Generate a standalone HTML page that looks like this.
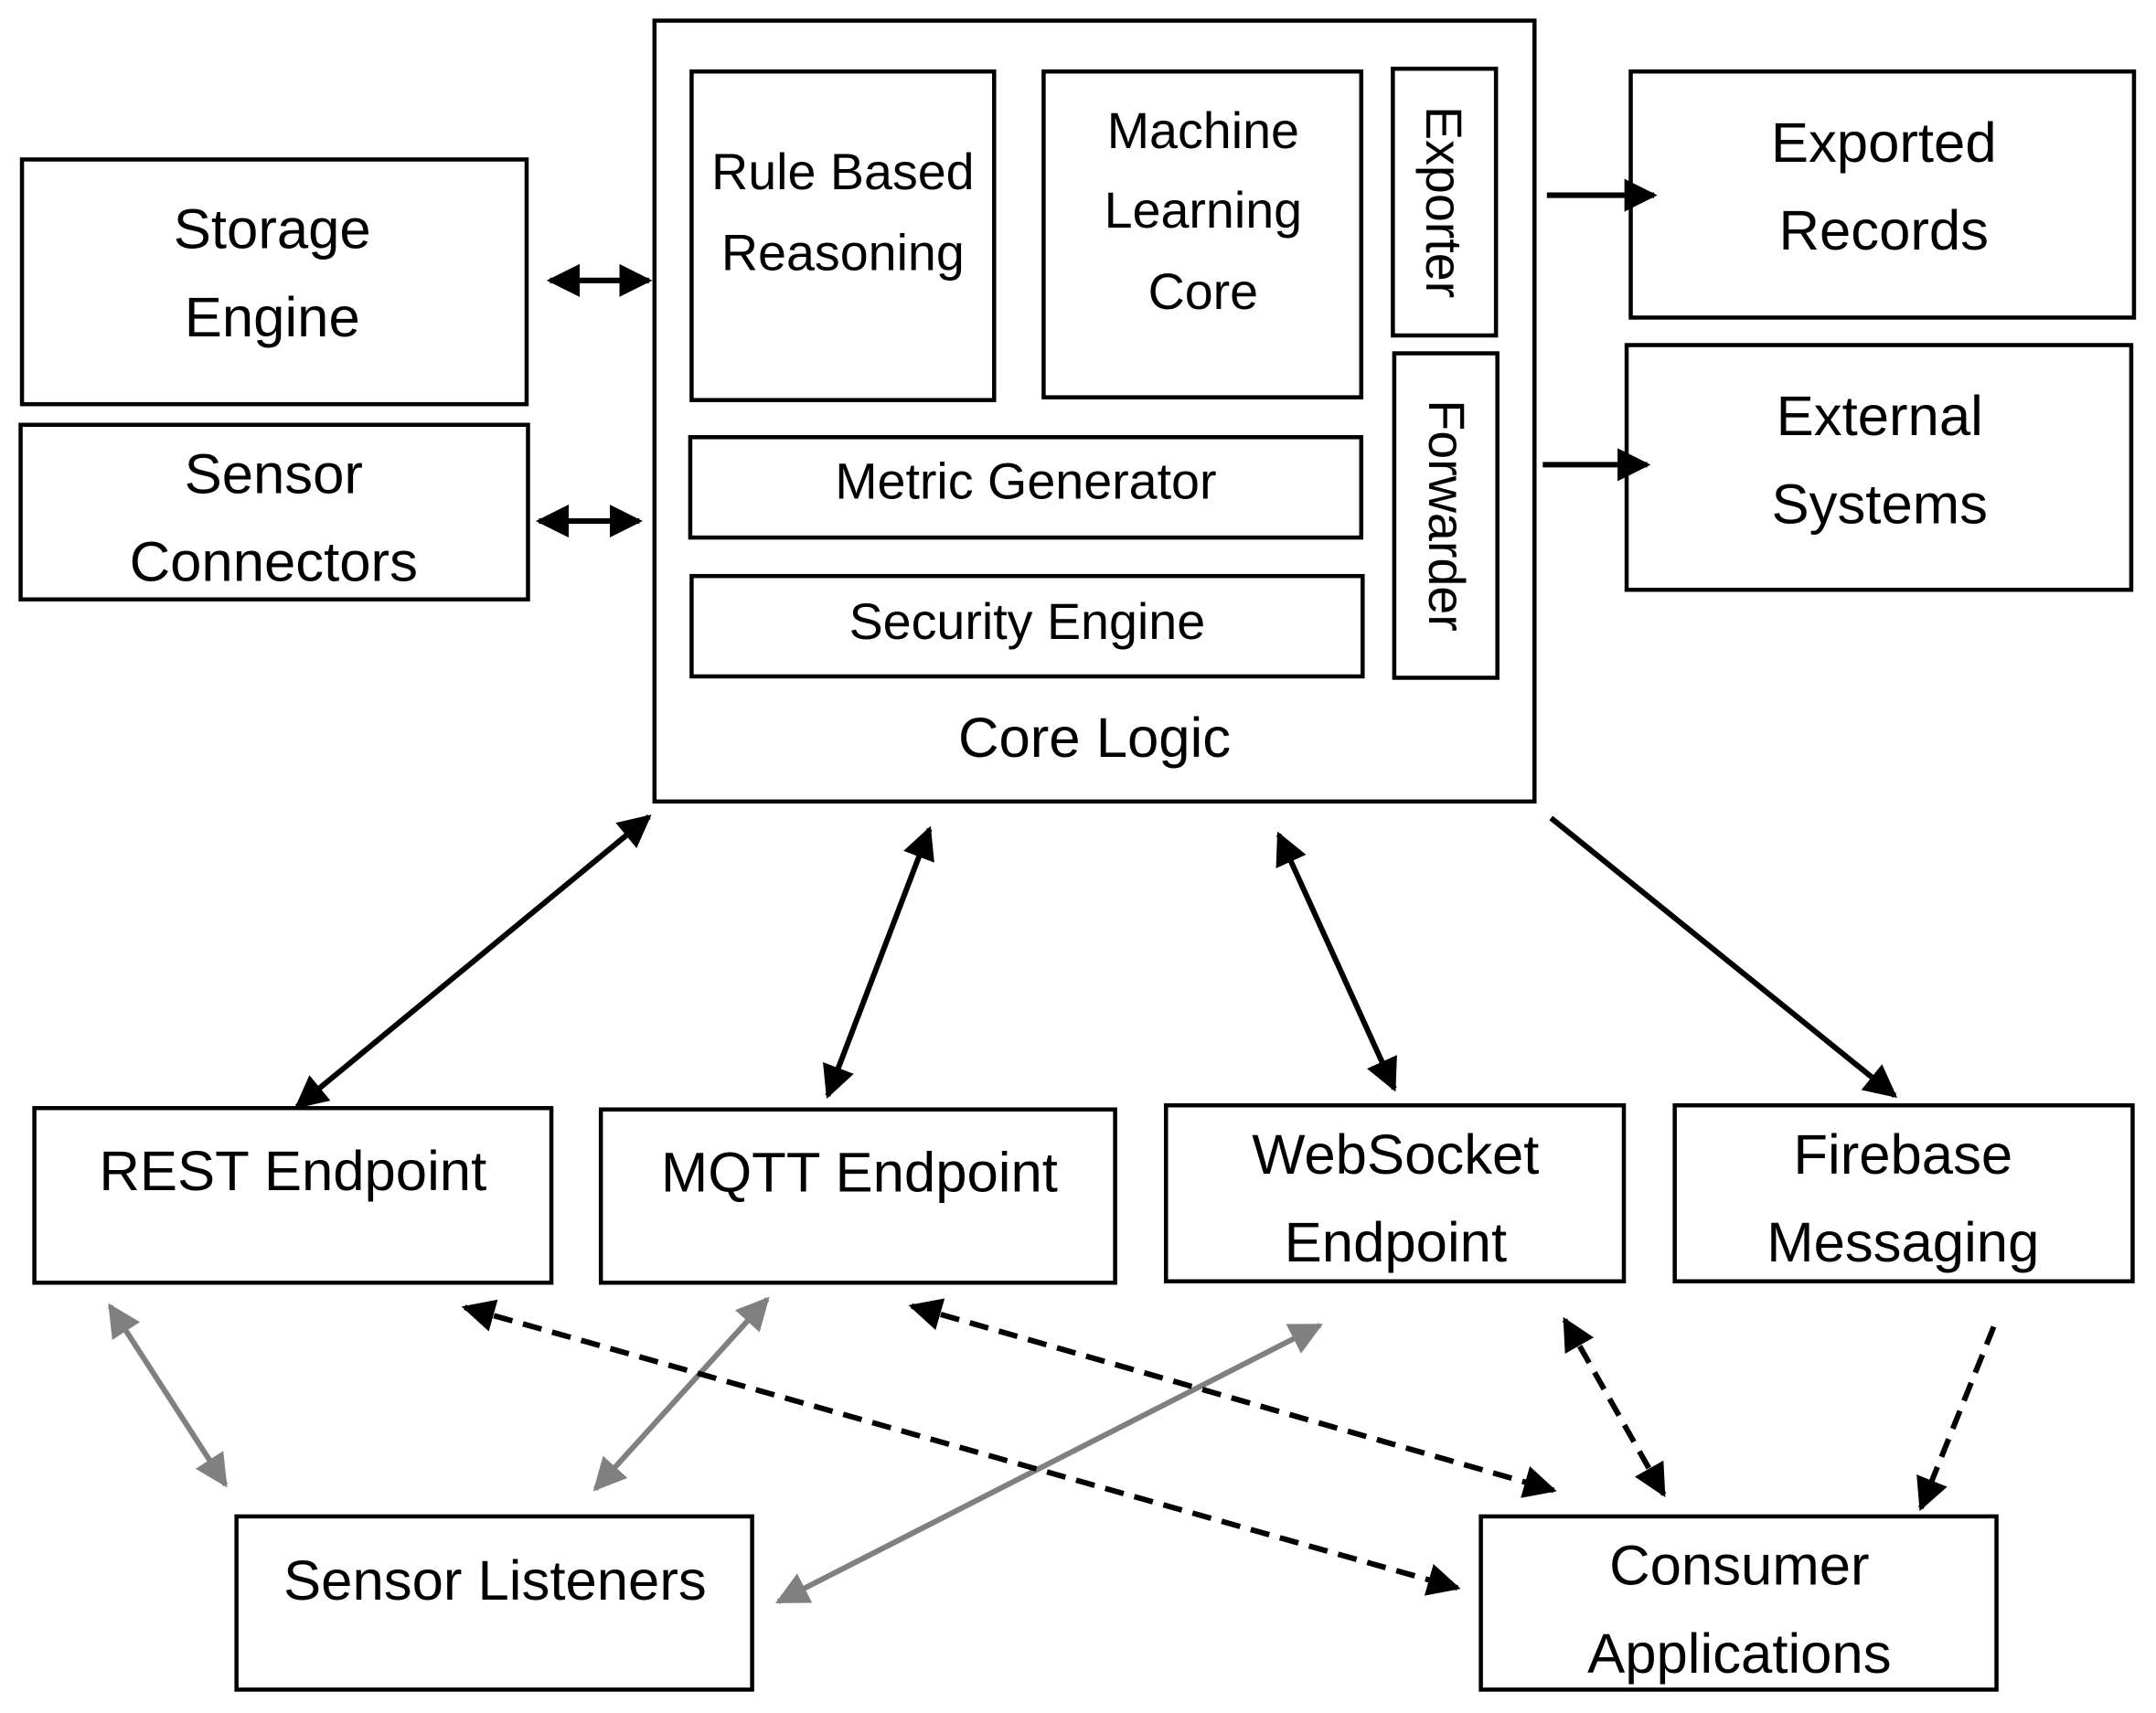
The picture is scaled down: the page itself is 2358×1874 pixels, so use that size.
<!DOCTYPE html>
<html><head><meta charset="utf-8"><style>html,body{margin:0;padding:0;background:#fff}svg{display:block}</style></head>
<body>
<svg width="2358" height="1874" viewBox="0 0 1568 1246" preserveAspectRatio="none" xmlns="http://www.w3.org/2000/svg" font-family="Liberation Sans, sans-serif">
<defs>
<marker id="a" viewBox="0 0 10 10" refX="9" refY="5" markerWidth="6" markerHeight="6" orient="auto-start-reverse" markerUnits="strokeWidth"><path d="M0,0 L10,5 L0,10 z" fill="#000"/></marker>
<marker id="g" viewBox="0 0 10 10" refX="9" refY="5" markerWidth="6" markerHeight="6" orient="auto-start-reverse" markerUnits="strokeWidth"><path d="M0,0 L10,5 L0,10 z" fill="#808080"/></marker>
</defs>
<g fill="none" stroke="#000" stroke-width="3">
<rect x="476" y="15" width="640" height="568"/>
<rect x="503" y="52" width="220" height="239"/>
<rect x="759" y="52" width="231" height="237"/>
<rect x="1013" y="50" width="75" height="194"/>
<rect x="1014" y="257" width="75" height="236"/>
<rect x="502" y="318" width="488" height="73"/>
<rect x="503" y="419" width="488" height="73"/>
<rect x="16" y="116" width="367" height="178"/>
<rect x="15" y="309" width="369" height="127"/>
<rect x="1186" y="52" width="366" height="179"/>
<rect x="1183" y="251" width="367" height="178"/>
<rect x="25" y="806" width="376" height="127"/>
<rect x="437" y="807" width="374" height="126"/>
<rect x="848" y="804" width="333" height="128"/>
<rect x="1218" y="804" width="333" height="128"/>
<rect x="172" y="1103" width="375" height="126"/>
<rect x="1077" y="1103" width="375" height="126"/>
</g>
<g stroke="#000" stroke-width="4" fill="none">
<line x1="400" y1="204" x2="472" y2="204" marker-start="url(#a)" marker-end="url(#a)"/>
<line x1="392" y1="379" x2="465" y2="379" marker-start="url(#a)" marker-end="url(#a)"/>
<line x1="1125" y1="142" x2="1203" y2="142" marker-end="url(#a)"/>
<line x1="1122" y1="338" x2="1198" y2="338" marker-end="url(#a)"/>
<line x1="472" y1="594" x2="216" y2="805" marker-start="url(#a)" marker-end="url(#a)"/>
<line x1="676" y1="603" x2="602" y2="797" marker-start="url(#a)" marker-end="url(#a)"/>
<line x1="930" y1="607" x2="1014" y2="792" marker-start="url(#a)" marker-end="url(#a)"/>
<line x1="1128" y1="595" x2="1378" y2="797" marker-end="url(#a)"/>
</g>
<g stroke="#808080" stroke-width="4" fill="none">
<line x1="80" y1="950" x2="164" y2="1080" marker-start="url(#g)" marker-end="url(#g)"/>
<line x1="558" y1="945" x2="433" y2="1083" marker-start="url(#g)" marker-end="url(#g)"/>
<line x1="960" y1="964" x2="566" y2="1165" marker-start="url(#g)" marker-end="url(#g)"/>
</g>
<g stroke="#000" stroke-width="4" fill="none" stroke-dasharray="14,8">
<line x1="338" y1="951" x2="1060" y2="1155" marker-start="url(#a)" marker-end="url(#a)"/>
<line x1="663" y1="950" x2="1130" y2="1084" marker-start="url(#a)" marker-end="url(#a)"/>
<line x1="1138" y1="960" x2="1210" y2="1087" marker-start="url(#a)" marker-end="url(#a)"/>
<line x1="1450" y1="965" x2="1397" y2="1097" marker-end="url(#a)"/>
</g>
<g fill="#000" text-anchor="middle" dominant-baseline="central" font-size="41">
<text x="198" y="167">Storage</text><text x="198" y="231">Engine</text>
<text x="199" y="345">Sensor</text><text x="199" y="409">Connectors</text>
<text x="1370" y="104">Exported</text><text x="1370" y="168">Records</text>
<text x="1367" y="303">External</text><text x="1367" y="367">Systems</text>
<text x="213" y="852">REST Endpoint</text>
<text x="625" y="853">MQTT Endpoint</text>
<text x="1015" y="840">WebSocket</text><text x="1015" y="904">Endpoint</text>
<text x="1384" y="840">Firebase</text><text x="1384" y="904">Messaging</text>
<text x="360" y="1150">Sensor Listeners</text>
<text x="1265" y="1139">Consumer</text><text x="1265" y="1203">Applications</text>
<text x="796" y="537">Core Logic</text>
</g>
<g fill="#000" text-anchor="middle" dominant-baseline="central" font-size="37">
<text x="613" y="125">Rule Based</text><text x="613" y="184">Reasoning</text>
<text x="875" y="95">Machine</text><text x="875" y="153">Learning</text><text x="875" y="212">Core</text>
<text x="746" y="350">Metric Generator</text>
<text x="747" y="452">Security Engine</text>
<text transform="translate(1050,147) rotate(90)" x="0" y="0">Exporter</text>
<text transform="translate(1052,375) rotate(90)" x="0" y="0">Forwarder</text>
</g>
</svg>
</body></html>
